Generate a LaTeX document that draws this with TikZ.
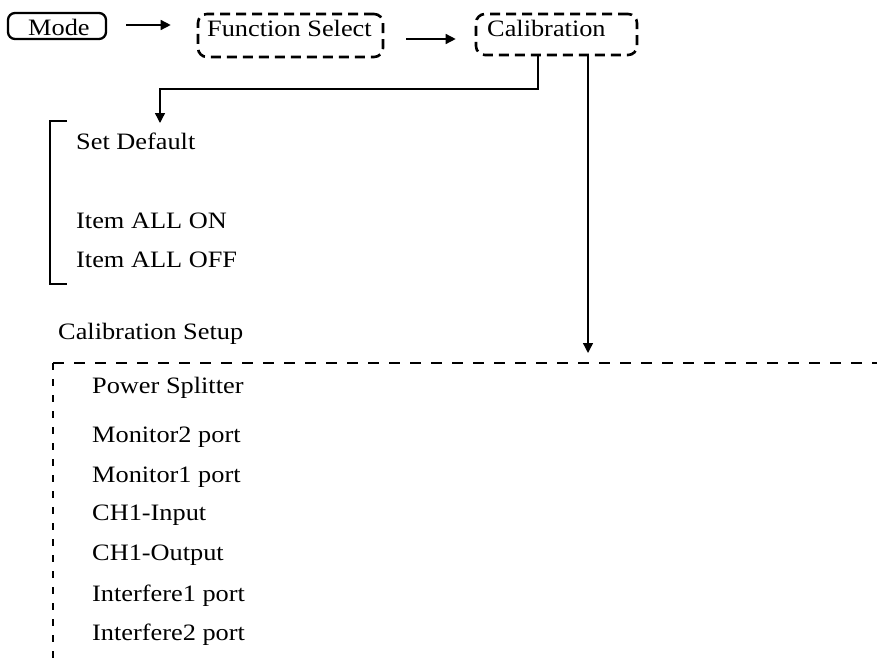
\documentclass[tikz,border=0pt]{standalone}
\usepackage{fontspec}
\setmainfont{Liberation Serif}[FakeStretch=1.12]
\usetikzlibrary{arrows.meta}
\begin{document}
\begin{tikzpicture}[x=1pt,y=-1pt,
  solidbox/.style={draw, line width=2.3pt, rounded corners=7pt, inner sep=0pt},
  dashbox/.style={draw, line width=2.6pt, rounded corners=9pt, dash pattern=on 10pt off 6pt, inner sep=0pt},
  lbl/.style={anchor=base west, inner sep=0pt, font=\fontsize{23.5}{28}\selectfont},
  arr/.style={line width=1.4pt, -{Triangle[width=10pt,length=10pt]}},
  conn/.style={line width=1.4pt}]
\useasboundingbox (0,0) rectangle (877,661);
% top row boxes
\node[solidbox, minimum width=98pt, minimum height=26pt] (mode) at (57,26) {};
\node[dashbox, minimum width=185pt, minimum height=43pt] (fs) at (290.5,35.5) {};
\node[dashbox, minimum width=161pt, minimum height=41pt] (cal) at (556.5,34.5) {};
\node[lbl] (modet) at (28,36) {Mode};
\node[lbl] (fst) at (207,37) {Function Select};
\node[lbl] (calt) at (487,37) {Calibration};
% arrows top row
\draw[arr, shorten <=19pt, shorten >=26pt] ([yshift=1pt]mode.east) -- ([yshift=1pt]mode.east -| fs.west);
\draw[arr, shorten <=22pt, shorten >=19pt] ([yshift=-3.5pt]fs.east) -- ([yshift=-3.5pt]fs.east -| cal.west);
% left branch
\coordinate (c1) at (538,55);
\coordinate (sdin) at (160,123);
\draw[arr] (c1) -- (538,89) -- (160,89) -- (sdin);
% bracket
\draw[conn] (67,121) -- (50,121) -- (50,284) -- (67,284);
\node[lbl] (sd) at (76,149) {Set Default};
\node[lbl] (on) at (76,228) {Item ALL ON};
\node[lbl] (off) at (76,267) {Item ALL OFF};
% right branch
\coordinate (c2) at (588,55);
\coordinate (frin) at (588,353);
\draw[arr] (c2) -- (frin);
\node[lbl] (cs) at (58,339) {Calibration Setup};
% frame
\draw[line width=1.6pt, dash pattern=on 11pt off 10pt] (53,363) -- (877,363);
\draw[line width=1.6pt, dash pattern=on 7pt off 9pt] (53,363) -- (53,661);
\node[lbl] (i1) at (92,393) {Power Splitter};
\node[lbl] (i2) at (92,442) {Monitor2 port};
\node[lbl] (i3) at (92,482) {Monitor1 port};
\node[lbl] (i4) at (92,520) {CH1-Input};
\node[lbl] (i5) at (92,560) {CH1-Output};
\node[lbl] (i6) at (92,601) {Interfere1 port};
\node[lbl] (i7) at (92,640) {Interfere2 port};
\end{tikzpicture}
\end{document}
